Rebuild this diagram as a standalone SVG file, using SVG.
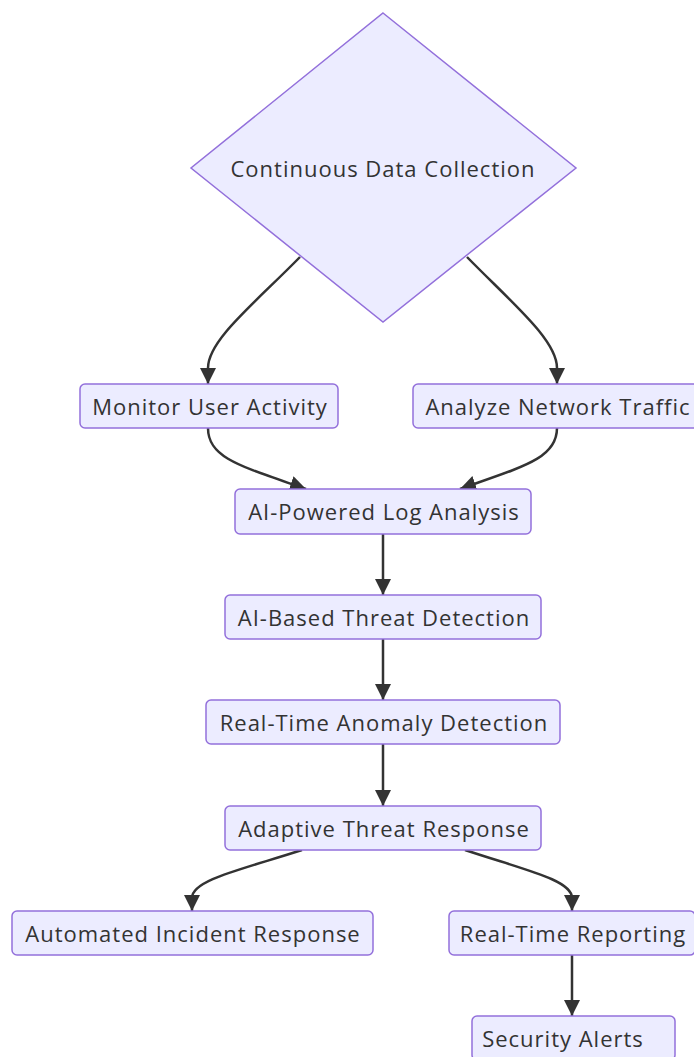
<svg xmlns="http://www.w3.org/2000/svg" width="694" height="1057" viewBox="0 0 694 1057">
<style>
.node rect,.node polygon{fill:#ECECFF;stroke:#9370DB;stroke-width:1.5}
.node text{font-family:"Open Sans","DejaVu Sans",sans-serif;font-size:22px;letter-spacing:1px;fill:#333;text-anchor:middle;dominant-baseline:central}
.edges path{fill:none;stroke:#333;stroke-width:2.5}
</style>
<defs>
<marker id="arr" viewBox="0 0 10 10" refX="10" refY="5" markerWidth="16" markerHeight="16" markerUnits="userSpaceOnUse" orient="auto">
<path d="M0,0 L10,5 L0,10 z" fill="#333"/>
</marker>
</defs>
<rect width="694" height="1057" fill="#fff"/>
<g class="edges">
<path d="M300,257 C255,303 208,340 208,368 L208,384" marker-end="url(#arr)"/>
<path d="M467,257 C512,303 557,340 557,368 L557,384" marker-end="url(#arr)"/>
<path d="M208,428 C208,458 240,466 306,489" marker-end="url(#arr)"/>
<path d="M557,428 C557,458 525,466 460,489" marker-end="url(#arr)"/>
<path d="M383,534 L383,595" marker-end="url(#arr)"/>
<path d="M383,639 L383,700" marker-end="url(#arr)"/>
<path d="M383,744 L383,806" marker-end="url(#arr)"/>
<path d="M302,850 C240,870 192,880 192,898 L192,911" marker-end="url(#arr)"/>
<path d="M465,850 C525,870 572,880 572,898 L572,911" marker-end="url(#arr)"/>
<path d="M572,955 L572,1016" marker-end="url(#arr)"/>
</g>
<g id="n-collect" class="node"><polygon points="383,13 576,168 383,322 191,168"/><text x="383" y="168">Continuous Data Collection</text></g>
<g id="n-monitor" class="node"><rect x="80" y="384" width="258" height="44" rx="5"/><text x="210" y="406">Monitor User Activity</text></g>
<g id="n-network" class="node"><rect x="413" y="384" width="288" height="44" rx="5"/><text x="558" y="406">Analyze Network Traffic</text></g>
<g id="n-log" class="node"><rect x="235" y="489" width="296" height="45" rx="5"/><text x="384" y="511">AI-Powered Log Analysis</text></g>
<g id="n-threat" class="node"><rect x="225" y="595" width="316" height="44" rx="5"/><text x="384" y="617">AI-Based Threat Detection</text></g>
<g id="n-anomaly" class="node"><rect x="206" y="700" width="354" height="44" rx="5"/><text x="384" y="722">Real-Time Anomaly Detection</text></g>
<g id="n-adaptive" class="node"><rect x="225" y="806" width="316" height="44" rx="5"/><text x="384" y="828">Adaptive Threat Response</text></g>
<g id="n-incident" class="node"><rect x="12" y="911" width="361" height="44" rx="5"/><text x="193" y="933">Automated Incident Response</text></g>
<g id="n-report" class="node"><rect x="449" y="911" width="246" height="44" rx="5"/><text x="573" y="933">Real-Time Reporting</text></g>
<g id="n-alerts" class="node"><rect x="472" y="1016" width="203" height="44" rx="5"/><text x="563" y="1038">Security Alerts</text></g>
</svg>
